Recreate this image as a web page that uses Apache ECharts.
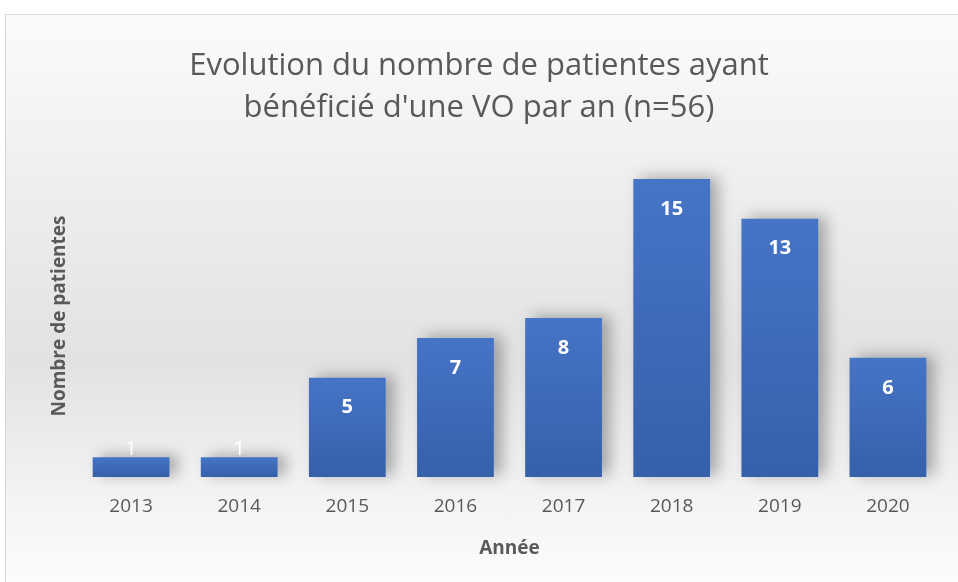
<!DOCTYPE html>
<html>
<head>
<meta charset="utf-8">
<script src="https://cdn.jsdelivr.net/npm/echarts@6/dist/echarts.min.js"></script>
<style>
  html, body { margin: 0; padding: 0; background: #ffffff; }
  #frame {
    position: absolute; left: 5px; top: 14px; width: 960px; height: 580px;
    border: 1px solid #d9d9d9; box-sizing: border-box;
    background: linear-gradient(to bottom, #fbfbfb 0%, #eeeeee 30%, #e2e2e2 60%, #f4f4f4 85%, #fdfdfd 100%);
  }
  #barChart { position: absolute; left: 0; top: 0; width: 958px; height: 582px; }
</style>
</head>
<body>
<div id="frame"></div>
<div id="barChart"></div>
<script>
const years = ['2013', '2014', '2015', '2016', '2017', '2018', '2019', '2020'];
const patientes = [1, 1, 5, 7, 8, 15, 13, 6];
const titleLines = ["Evolution du nombre de patientes ayant", "bénéficié d'une VO par an (n=56)"];

const font = "'Open Sans', 'Noto Sans', sans-serif";

let chart = echarts.init(document.getElementById('barChart'));

let barData = patientes.map(function (v) {
  // les barres trop basses : étiquette au-dessus
  if (v < 2) {
    return { value: v, label: { position: 'top', distance: -2, fontWeight: 'normal' } };
  }
  return v;
});

chart.setOption({
  backgroundColor: 'transparent',
  title: {
    text: titleLines.join('\n'),
    left: 'center',
    top: 40,
    textStyle: { color: '#595959', fontFamily: font, fontSize: 31, fontWeight: 'normal', lineHeight: 42 }
  },
  grid: { left: 77, right: 16, top: 179, bottom: 105 },
  xAxis: {
    type: 'category',
    data: years,
    axisLine: { show: false },
    axisTick: { show: false },
    axisLabel: { color: '#595959', fontFamily: font, fontSize: 19, margin: 20 },
    name: 'Année',
    nameLocation: 'middle',
    nameGap: 62,
    nameTextStyle: { color: '#595959', fontFamily: font, fontSize: 19, fontWeight: 'bold' }
  },
  yAxis: {
    type: 'value',
    min: 0,
    max: 15,
    show: true,
    axisLine: { show: false },
    axisTick: { show: false },
    axisLabel: { show: false },
    splitLine: { show: false },
    name: 'Nombre de patientes',
    nameLocation: 'middle',
    nameGap: 8,
    nameTextStyle: { color: '#595959', fontFamily: font, fontSize: 19, fontWeight: 'bold', padding: [0, 0, 0, 24] }
  },
  series: [{
    type: 'bar',
    data: barData,
    barWidth: '71%',
    itemStyle: {
      color: new echarts.graphic.LinearGradient(0, 0, 0, 1, [
        { offset: 0, color: '#4674c6' },
        { offset: 1, color: '#3560aa' }
      ]),
      shadowColor: 'rgba(0, 0, 0, 0.3)',
      shadowBlur: 14,
      shadowOffsetX: 8,
      shadowOffsetY: -2
    },
    label: {
      show: true,
      position: 'insideTop',
      distance: 20,
      color: '#ffffff',
      fontFamily: font,
      fontSize: 20,
      fontWeight: 'bold'
    }
  }]
});
</script>
</body>
</html>
